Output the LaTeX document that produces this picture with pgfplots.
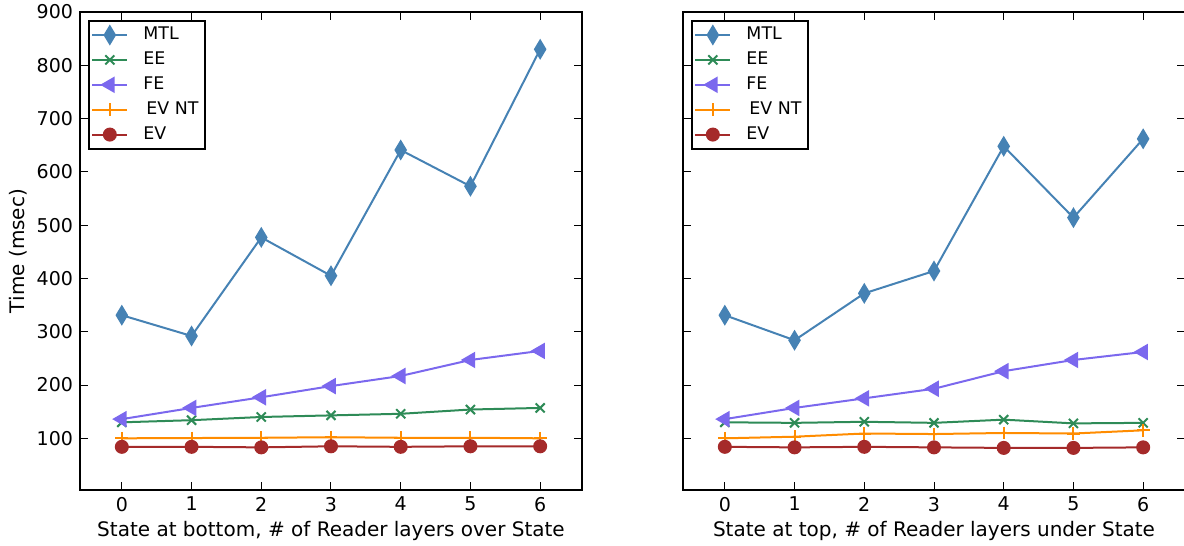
\documentclass[border=0pt]{standalone}
\usepackage{fontspec}
\setmainfont{DejaVu Sans}
\usepackage{pgfplots}
\pgfplotsset{compat=1.18}
\definecolor{cMTL}{HTML}{4682B4}
\definecolor{cEE}{HTML}{2E8B57}
\definecolor{cFE}{HTML}{7B68EE}
\definecolor{cEVNT}{HTML}{FF8C00}
\definecolor{cEV}{HTML}{A52A2A}
\pgfplotsset{
  myax/.style={
    scale only axis, width=251pt, height=239pt,
    xmin=-0.6, xmax=6.6, ymin=3, ymax=900,
    xtick={0,...,6}, ytick={100,200,...,900},
    tick align=inside, tick pos=both,
    major tick length=4pt,
    tick style={black, line width=0.5pt},
    axis line style={line width=0.8pt},
    font=\fontsize{9.5}{11}\selectfont,
    label style={font=\fontsize{10}{12}\selectfont},
    /pgf/number format/assume math mode=true,
    legend style={at={(rel axis cs:0,1)}, xshift=4pt, yshift=-4pt, anchor=north west,
      draw=black, line width=0.8pt, font=\fontsize{8.7}{10}\selectfont,
      row sep=0.6pt, inner sep=1.2pt, nodes={inner xsep=2pt}},
    legend cell align=left,
    legend image code/.code={%
      \draw[mark repeat=2,mark phase=2] plot coordinates {(0cm,0cm) (0.31cm,0cm) (0.62cm,0cm)};},
    every axis plot/.append style={line width=1pt},
    clip=false,
  },
  sMTL/.style={cMTL, mark=diamond*, mark size=4.3pt, mark options={xscale=0.8, fill=cMTL, draw=cMTL}},
  sEE/.style={cEE, mark=x, mark size=3.2pt, mark options={line width=1pt}},
  sFE/.style={cFE, mark=triangle*, mark size=3.8pt, mark options={rotate=90, fill=cFE}},
  sEVNT/.style={cEVNT, mark=+, mark size=3.2pt},
  sEV/.style={cEV, mark=*, mark size=3pt, mark options={fill=cEV}},
}
\newcommand{\lgent}[1]{\hspace{5.5pt}#1}
\begin{document}
\begin{tikzpicture}
\path[use as bounding box] (0,0) rectangle (592pt,273pt);
\begin{axis}[myax, at={(40pt,28pt)}, anchor=south west,
  ylabel={Time (msec)}, ylabel style={yshift=-2pt},
  xlabel={State at bottom, \# of Reader layers over State}, xlabel style={yshift=2pt}]
\addplot[sMTL] coordinates {(0,331)(1,292)(2,477)(3,405)(4,641)(5,573)(6,830)};
\addlegendentry{\lgent{MTL}}
\addplot[sEE] coordinates {(0,130)(1,134)(2,140)(3,143)(4,146)(5,154)(6,157)};
\addlegendentry{\lgent{EE}}
\addplot[sFE] coordinates {(0,136)(1,157)(2,177)(3,198)(4,217)(5,247)(6,264)};
\addlegendentry{\lgent{FE}}
\addplot[sEVNT] coordinates {(0,100)(1,100.5)(2,101)(3,102)(4,101)(5,101)(6,100)};
\addlegendentry{\lgent{\hspace{1.5pt}EV NT}}
\addplot[sEV] coordinates {(0,84)(1,84)(2,83)(3,85)(4,84)(5,85)(6,85)};
\addlegendentry{\lgent{EV}}
\end{axis}
\begin{axis}[myax, at={(341.5pt,28pt)}, anchor=south west, yticklabels={},
  xlabel={State at top, \# of Reader layers under State}, xlabel style={yshift=2pt}]
\addplot[sMTL] coordinates {(0,331)(1,284)(2,372)(3,414)(4,648)(5,514)(6,662)};
\addlegendentry{\lgent{MTL}}
\addplot[sEE] coordinates {(0,130)(1,129)(2,131)(3,129)(4,135)(5,128)(6,129)};
\addlegendentry{\lgent{EE}}
\addplot[sFE] coordinates {(0,136)(1,157)(2,175)(3,193)(4,226)(5,247)(6,262)};
\addlegendentry{\lgent{FE}}
\addplot[sEVNT] coordinates {(0,100)(1,103)(2,109)(3,108)(4,110)(5,109)(6,115)};
\addlegendentry{\lgent{\hspace{1.5pt}EV NT}}
\addplot[sEV] coordinates {(0,84)(1,83)(2,84)(3,83)(4,82)(5,82)(6,83)};
\addlegendentry{\lgent{EV}}
\end{axis}
\end{tikzpicture}
\end{document}
